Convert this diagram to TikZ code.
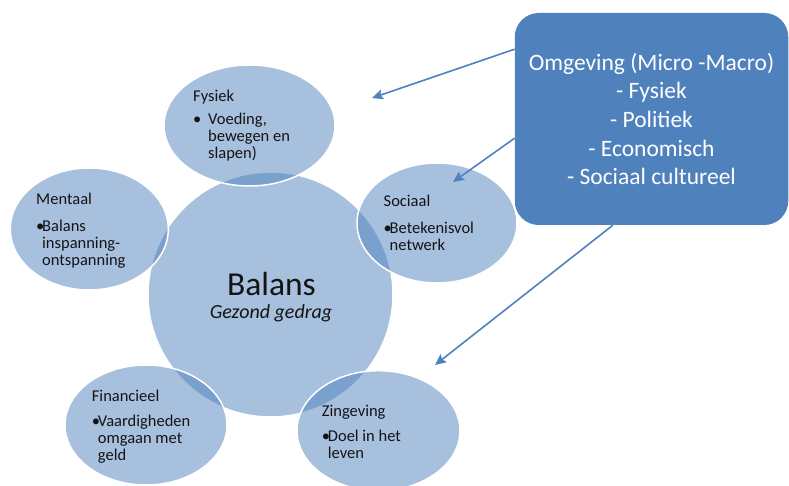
\documentclass[tikz,border=0pt]{standalone}
\usepackage{fontspec}
\setmainfont{Carlito}
\usetikzlibrary{shapes.geometric,arrows.meta}

\definecolor{accent}{RGB}{79,129,189}
\definecolor{ink}{RGB}{20,20,20}

\tikzset{
  bubble/.style={ellipse, draw=white, line width=1.5pt, fill=accent,
    fill opacity=0.5, draw opacity=1, inner sep=0pt},
  item/.style={anchor=base west, inner sep=0pt, text=ink,
    font=\fontsize{16.5}{16.7}\selectfont},
  envbox/.style={rectangle, rounded corners=24pt, fill=accent, inner sep=0pt,
    text=white, align=center, font=\fontsize{23.5}{28.7}\selectfont},
  link/.style={draw=accent, line width=1.6pt, -{Stealth[length=11pt,width=10pt,inset=2pt]}},
}

\begin{document}
\begin{tikzpicture}[x=1pt,y=-1pt]
\useasboundingbox (0,0) rectangle (789,486);

% central circle and the five life domains
\node[bubble, circle, minimum size=245pt] (centre) at (270.5,294.5) {};
\node[bubble, minimum width=171pt, minimum height=121pt] (fysiek) at (249.5,125.5) {};
\node[bubble, minimum width=158pt, minimum height=122pt] (mentaal) at (89.3,229) {};
\node[bubble, minimum width=160pt, minimum height=120pt] (sociaal) at (437,223) {};
\node[bubble, minimum width=162pt, minimum height=120pt] (financieel) at (146,425) {};
\node[bubble, minimum width=163pt, minimum height=120pt] (zingeving) at (378.5,430.7) {};

% centre text
\node[anchor=base, inner sep=0pt, text=ink, font=\fontsize{33.5}{40}\selectfont]
  (balans) at (271.5,295) {Balans};
\node[anchor=base, inner sep=0pt, text=ink, font=\fontsize{20}{24}\selectfont\itshape]
  (gedrag) at (271,318) {Gezond gedrag};

% domain labels
\node[item] (tfysiek) at (193,101.7) {\begin{tabular}[t]{@{}p{15pt}@{}l@{}}
  \multicolumn{2}{@{}l@{}}{Fysiek}\\[6.5pt]
  \textbullet & Voeding,\\ & bewegen en\\ & slapen)\end{tabular}};
\node[item] (tmentaal) at (36,205) {\begin{tabular}[t]{@{}p{6pt}@{}l@{}}
  \multicolumn{2}{@{}l@{}}{Mentaal}\\[10pt]
  \textbullet & Balans\\ & inspanning-\\ & ontspanning\end{tabular}};
\node[item] (tsociaal) at (383.5,206.7) {\begin{tabular}[t]{@{}p{6pt}@{}l@{}}
  \multicolumn{2}{@{}l@{}}{Sociaal}\\[10.6pt]
  \textbullet & Betekenisvol\\ & netwerk\end{tabular}};
\node[item] (tfinancieel) at (91.7,401.7) {\begin{tabular}[t]{@{}p{6pt}@{}l@{}}
  \multicolumn{2}{@{}l@{}}{Financieel}\\[8.3pt]
  \textbullet & Vaardigheden\\ & omgaan met\\ & geld\end{tabular}};
\node[item] (tzingeving) at (321.7,416.7) {\begin{tabular}[t]{@{}p{6pt}@{}l@{}}
  \multicolumn{2}{@{}l@{}}{Zingeving}\\[8.3pt]
  \textbullet & Doel in het\\ & leven\end{tabular}};

% environment box
\node[envbox, minimum width=273.5pt, minimum height=212pt] (omgeving) at (651.5,119)
  {Omgeving (Micro -Macro)\\- Fysiek\\- Politiek\\- Economisch\\- Sociaal cultureel};

% influence arrows
\coordinate (p1) at (372,98);
\coordinate (p2) at (453,182);
\coordinate (p3) at (435,365);
\draw[link] (omgeving.153) -- (p1);
\draw[link] (omgeving.188) -- (p2);
\draw[link] (omgeving.250) -- (p3);
\end{tikzpicture}
\end{document}
